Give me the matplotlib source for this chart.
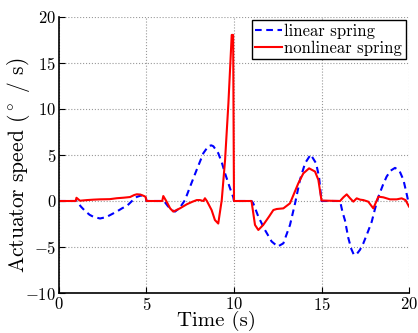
import matplotlib
matplotlib.use("Agg")
import matplotlib.pyplot as plt

# linear spring (blue dashed)
lin_t = [0, 1.0, 1.25, 1.5, 1.75, 2.0, 2.35, 2.7, 3.0, 3.3, 3.6, 3.9, 4.2, 4.45, 4.7, 4.95, 5.0,
         6.0, 6.2, 6.4, 6.63, 6.9, 7.2, 7.49, 7.87, 8.25, 8.53, 8.7, 8.82, 9.1, 9.3, 9.49, 9.77, 9.96, 10.0,
         11.0, 11.1, 11.39, 11.77, 12.15, 12.5, 12.82, 13.2, 13.49, 13.77, 14.06, 14.38, 14.69, 14.86, 15.0,
         16.06, 16.2, 16.34, 16.53, 16.7, 16.85, 17.0, 17.2, 17.39, 17.6, 17.87, 18.05, 18.25, 18.5, 18.72,
         18.95, 19.2, 19.45, 19.68, 19.85, 20.0]
lin_v = [0, 0, -0.6, -1.1, -1.5, -1.75, -1.9, -1.75, -1.45, -1.15, -0.8, -0.5, 0.05, 0.45, 0.6, 0.5, 0,
         0, -0.5, -0.95, -1.15, -0.75, 0.1, 1.55, 3.4, 5.2, 5.95, 6.05, 5.95, 5.2, 4.2, 3.0, 1.4, 0.4, 0,
         0, -0.25, -1.7, -3.15, -4.4, -4.95, -4.6, -2.6, -0.25, 2.3, 4.1, 5.05, 4.1, 2.6, 0,
         0, -1.2, -2.1, -4.0, -5.2, -5.85, -5.8, -5.3, -4.6, -3.6, -2.25, -0.9, 0.45, 1.7, 2.65,
         3.3, 3.6, 3.3, 2.3, 0.9, -0.4]

# nonlinear spring (red solid)
non_t = [0, 0.95, 1.0, 1.2, 1.6, 2.0, 2.34, 2.9, 3.3, 3.7, 4.06, 4.3, 4.45, 4.65, 4.85, 4.95, 5.0,
         5.9, 5.96, 6.15, 6.35, 6.53, 6.7, 6.91, 7.3, 7.6, 7.87, 8.05, 8.25, 8.34, 8.45, 8.72, 8.91,
         9.1, 9.3, 9.49, 9.68, 9.87, 9.95, 10.0,
         11.0, 11.2, 11.39, 11.67, 12.0, 12.25, 12.44, 12.82, 13.2, 13.67, 13.96, 14.29, 14.63, 14.82, 15.0,
         16.06, 16.25, 16.44, 16.63, 16.82, 17.01, 17.2, 17.39, 17.67, 17.96, 18.25, 18.53, 18.91, 19.3,
         19.58, 19.8, 20.0]
non_v = [0, 0, 0.35, 0.03, 0.1, 0.15, 0.18, 0.2, 0.3, 0.36, 0.43, 0.65, 0.73, 0.7, 0.55, 0.45, 0,
         0, 0.54, -0.07, -0.8, -1.15, -1.0, -0.8, -0.36, -0.1, 0.1, 0.1, 0.0, 0.3, 0.0, -0.98, -2.07,
         -2.45, 0.1, 4.46, 10.6, 18.05, 18.05, 0,
         0, -2.6, -3.15, -2.6, -1.7, -0.98, -0.87, -0.8, -0.25, 1.9, 3.0, 3.55, 3.2, 2.3, 0.05,
         0, 0.4, 0.72, 0.3, -0.07, 0.29, 0.15, 0.1, -0.07, -0.8, 0.47, 0.4, 0.18, 0.18,
         0.29, 0.1, -0.6]

plt.rcParams['font.family'] = 'serif'
plt.rcParams['font.serif'] = ['cmr10']
plt.rcParams['mathtext.fontset'] = 'cm'
plt.rcParams['axes.formatter.use_mathtext'] = True

fig = plt.figure(figsize=(4.18, 3.33), dpi=100)
ax = fig.add_axes([0.1411, 0.1201, 0.8374, 0.8289])

ax.plot(lin_t, lin_v, color='#0000ff', linestyle=(0, (3.2, 2.2)), linewidth=1.5, label='linear spring')
ax.plot(non_t, non_v, color='#ff0000', linestyle='-', linewidth=1.5, label='nonlinear spring')

ax.set_xlim(0, 20)
ax.set_ylim(-10, 20)
ax.set_xticks([0, 5, 10, 15, 20])
ax.set_yticks([-10, -5, 0, 5, 10, 15, 20])
ax.grid(True, color='0.6', linestyle=':', linewidth=0.8)
ax.spines['top'].set_visible(False)
ax.spines['right'].set_visible(False)
ax.spines['left'].set_linewidth(1.2)
ax.spines['bottom'].set_linewidth(1.2)
ax.tick_params(direction='in', length=4, labelsize=12, pad=2)

ax.set_xlabel('Time (s)', fontsize=15)
ax.set_ylabel(r'Actuator speed ($^\circ$ / s)', fontsize=15.5)
ax.xaxis.set_label_coords(0.449, -0.066)
ax.yaxis.set_label_coords(-0.076, 0.464)

leg = ax.legend(loc='upper right', fontsize=12, fancybox=False, framealpha=1,
                edgecolor='black', handlelength=1.6, handletextpad=0.15,
                borderpad=0.2, labelspacing=0.1, borderaxespad=0.2)
leg.get_frame().set_linewidth(1.0)

fig.savefig('out.png', dpi=100)
